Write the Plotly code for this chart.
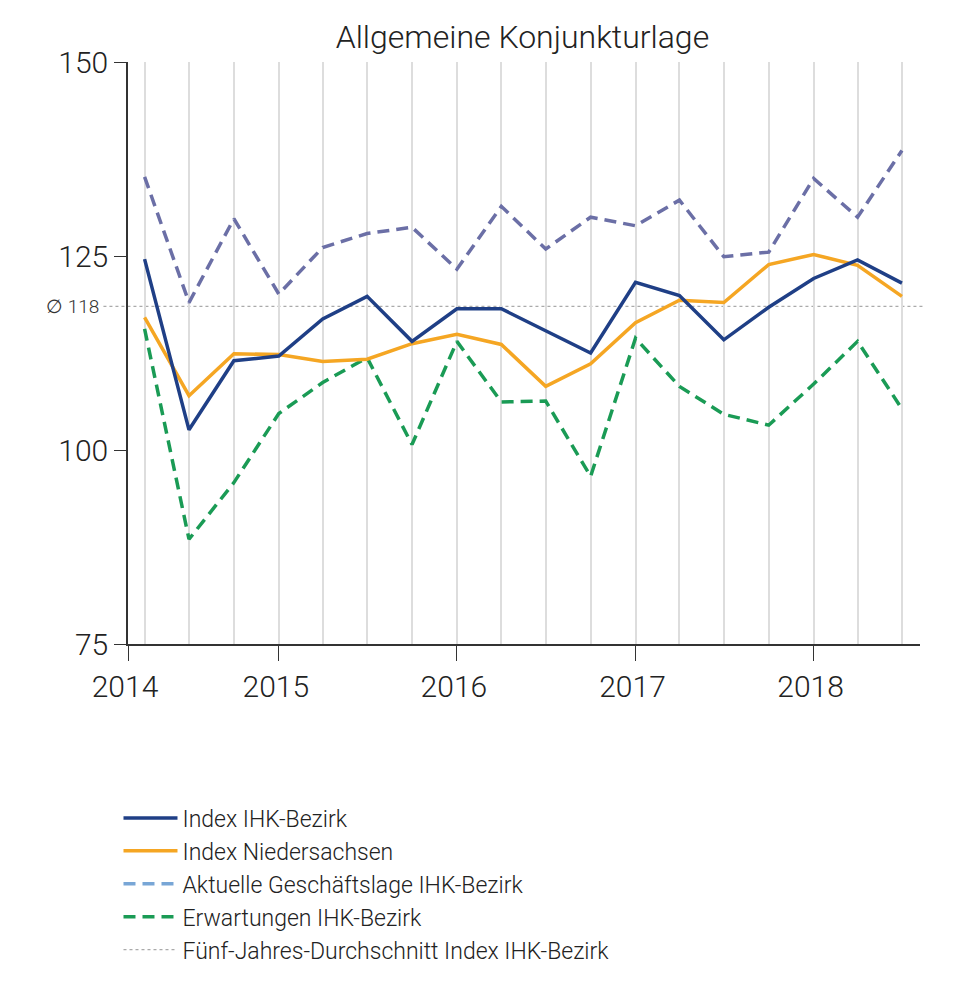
import plotly.graph_objects as go

quarters = ["2014-04-01", "2014-07-01", "2014-10-01", "2015-01-01", "2015-04-01", "2015-07-01",
            "2015-10-01", "2016-01-01", "2016-04-01", "2016-07-01", "2016-10-01", "2017-01-01",
            "2017-04-01", "2017-07-01", "2017-10-01", "2018-01-01", "2018-04-01", "2018-07-01"]

index_ihk = [124.6, 102.6, 111.5, 112.1, 116.9, 119.8, 114.0, 118.2, 118.2, 115.4, 112.5, 121.6,
             119.9, 114.2, 118.4, 122.1, 124.5, 121.5]
index_nds = [117.1, 107.0, 112.4, 112.3, 111.4, 111.7, 113.7, 114.9, 113.6, 108.2, 111.1, 116.4,
             119.3, 119.0, 123.9, 125.2, 123.8, 119.8]
geschaeftslage = [135.2, 119.0, 129.8, 120.1, 126.1, 127.9, 128.7, 123.3, 131.4, 125.9, 130.0, 128.9,
                  132.2, 124.9, 125.5, 135.0, 130.0, 138.6]
erwartungen = [115.6, 88.5, 95.8, 104.7, 108.7, 111.9, 100.7, 114.0, 106.2, 106.3, 96.6, 114.4,
               108.2, 104.6, 103.2, 108.5, 114.0, 105.3]
avg_value = 118.5
avg_label = "∅ 118"

year_tickvals = ["2014-02-26", "2015-01-01", "2016-01-01", "2017-01-01", "2018-01-01"]
year_ticktext = ["2014", "2015", "2016", "2017", "2018"]
y_tickvals = [75, 100, 125, 150]

names = ["Index IHK-Bezirk", "Index Niedersachsen", "Aktuelle Geschäftslage IHK-Bezirk",
         "Erwartungen IHK-Bezirk", "Fünf-Jahres-Durchschnitt Index IHK-Bezirk"]

FONT = "Roboto"
C_NAVY = "#1f3f86"
C_ORANGE = "#f5a623"
C_PURPLE = "#6b6fa6"
C_LIGHTBLUE = "#78a6d6"
C_GREEN = "#1a9b55"
C_AVG = "#aaaaaa"
DASH = "12px,7px"

fig = go.Figure()

fig.add_trace(go.Scatter(x=quarters, y=geschaeftslage, mode="lines", showlegend=False,
                         line=dict(color=C_PURPLE, width=3.5, dash=DASH)))
fig.add_trace(go.Scatter(x=quarters, y=erwartungen, mode="lines", name=names[3], legendrank=4,
                         line=dict(color=C_GREEN, width=3.5, dash=DASH)))
fig.add_trace(go.Scatter(x=quarters, y=index_nds, mode="lines", name=names[1], legendrank=2,
                         line=dict(color=C_ORANGE, width=3.5)))
fig.add_trace(go.Scatter(x=quarters, y=index_ihk, mode="lines", name=names[0], legendrank=1,
                         line=dict(color=C_NAVY, width=3.5)))
fig.add_trace(go.Scatter(x=[None], y=[None], mode="lines", name=names[2], legendrank=3,
                         line=dict(color=C_LIGHTBLUE, width=3.5, dash=DASH)))
fig.add_trace(go.Scatter(x=[None], y=[None], mode="lines", name=names[4], legendrank=5,
                         line=dict(color=C_AVG, width=1.2, dash="3px,3px")))

fig.add_shape(type="line", xref="paper", yref="y", x0=-0.031, x1=1.004, y0=avg_value, y1=avg_value,
              line=dict(color=C_AVG, width=1.2, dash="3px,3px"), layer="below")

fig.add_annotation(x=0, xref="paper", y=avg_value, yref="y", xanchor="right", yanchor="middle",
                   xshift=-27, text=avg_label, showarrow=False,
                   font=dict(family=FONT, size=19, color="#333", weight=300))

fig.update_layout(
    width=980, height=1002,
    margin=dict(l=120, r=68, t=54, b=366),
    paper_bgcolor="white", plot_bgcolor="white",
    font=dict(family=FONT, color="#222", weight=300),
    title=dict(text="Allgemeine Konjunkturlage", x=0.498, xref="paper", xanchor="center",
               y=1 - 29 / 1002, yref="container", yanchor="middle",
               font=dict(family=FONT, size=32, color="#222", weight=300)),
    showlegend=True,
    legend=dict(x=-0.012, xanchor="left", y=-0.262, yanchor="top", orientation="v",
                font=dict(family=FONT, size=23, color="#222", weight=300),
                bgcolor="rgba(0,0,0,0)", itemwidth=54, tracegroupgap=0),
    xaxis=dict(type="date", range=["2014-02-26", "2018-08-07"],
               tickmode="array", tickvals=year_tickvals, ticktext=year_ticktext,
               ticks="outside", ticklen=15, tickwidth=1.2, tickcolor="#333",
               showline=True, linecolor="#333", linewidth=1.5,
               showgrid=False, zeroline=False, ticklabelshift=-3,
               minor=dict(tickmode="array", tickvals=quarters, showgrid=True,
                          gridcolor="#dddddd", gridwidth=1.5, ticks=""),
               tickfont=dict(family=FONT, size=30, color="#222", weight=300)),
    yaxis=dict(range=[75, 150], tickmode="array", tickvals=y_tickvals,
               ticks="outside", ticklen=12, tickwidth=1.2, tickcolor="#333",
               showline=True, linecolor="#333", linewidth=1.5,
               showgrid=False, zeroline=False,
               tickfont=dict(family=FONT, size=30, color="#222", weight=300)),
)

fig.write_html("out.html")
